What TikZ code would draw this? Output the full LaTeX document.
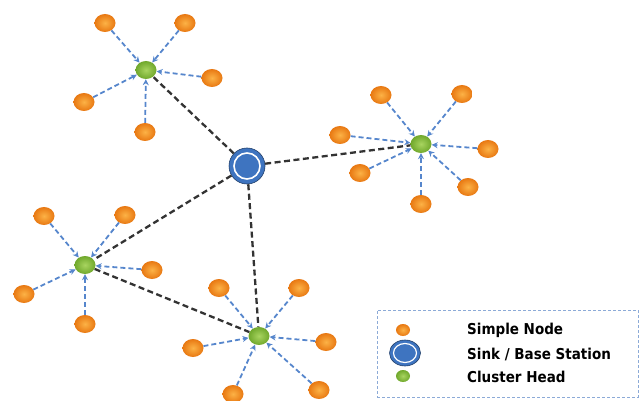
\documentclass[tikz,border=0pt]{standalone}
\usepackage{fontspec}
\setmainfont{DejaVu Sans Condensed}
\usetikzlibrary{arrows.meta,shapes.geometric}
\definecolor{nodeorange}{RGB}{232,120,18}
\definecolor{nodelight}{RGB}{252,178,70}
\definecolor{headgreen}{RGB}{112,168,44}
\definecolor{headlight}{RGB}{168,212,96}
\definecolor{sinkblue}{RGB}{62,116,192}
\definecolor{linkblue}{RGB}{86,134,204}
\definecolor{boxblue}{RGB}{140,170,215}

\begin{document}
\begin{tikzpicture}[x=1pt,y=-1pt,
    simple/.style={ellipse,minimum width=21pt,minimum height=18pt,inner sep=0pt,inner color=nodelight,outer color=nodeorange},
    head/.style={ellipse,minimum width=21pt,minimum height=18pt,inner sep=0pt,inner color=headlight,outer color=headgreen},
    sinkring/.style={ellipse,minimum width=36pt,minimum height=36pt,inner sep=0pt,fill=sinkblue,draw=sinkblue!55!black,line width=0.6pt},
    sinkcore/.style={ellipse,minimum width=26pt,minimum height=26pt,inner sep=0pt,fill=sinkblue,draw=white,line width=1.6pt},
    link/.style={draw=linkblue,line width=1.8pt,dash pattern=on 5pt off 3pt,-{Stealth[length=6pt,width=6pt]}},
    uplink/.style={draw=black!80,line width=2.3pt,dash pattern=on 6pt off 3.5pt},
    legendtext/.style={anchor=west,inner sep=0pt,font=\bfseries\fontsize{15}{18}\selectfont}]
    \useasboundingbox (0,0) rectangle (643,401);

    \node[sinkring] (sink) at (247,166) {};
    \node[sinkcore] (sinkc) at (sink) {};

    \node[head] (c1) at (146,70) {};
    \node[head] (c2) at (421,144) {};
    \node[head] (c3) at (85,265) {};
    \node[head] (c4) at (259,336) {};

    \foreach \c in {c1,c2,c3,c4}
        \draw[uplink] (sink) -- (\c);
    \draw[uplink] (c3) -- (c4);

    \foreach \p [count=\i] in {(105,23),(185,23),(212,78),(84,102),(145,132)}{
        \node[simple] (a\i) at \p {};
        \draw[link] (a\i) -- (c1);
    }
    \foreach \p [count=\i] in {(381,95),(462,94),(340,135),(488,149),(360,173),(468,187),(421,204)}{
        \node[simple] (b\i) at \p {};
        \draw[link] (b\i) -- (c2);
    }
    \foreach \p [count=\i] in {(44,216),(125,215),(152,270),(24,294),(85,324)}{
        \node[simple] (d\i) at \p {};
        \draw[link] (d\i) -- (c3);
    }
    \foreach \p [count=\i] in {(219,288),(299,288),(326,342),(193,348),(233,394),(319,390)}{
        \node[simple] (e\i) at \p {};
        \draw[link] (e\i) -- (c4);
    }

    \node[draw=boxblue,line width=1pt,dash pattern=on 3pt off 2pt,minimum width=261pt,minimum height=87pt] (legend) at (507.5,353.5) {};
    \node[simple,minimum width=14pt,minimum height=12pt] (ksimple) at (403,330) {};
    \node[sinkring,minimum width=31pt,minimum height=26pt] (ksink) at (405,353) {};
    \node[sinkcore,minimum width=23pt,minimum height=19pt,line width=1.2pt] (ksinkc) at (ksink) {};
    \node[head,minimum width=14pt,minimum height=12pt] (khead) at (403,376) {};
    \node[legendtext] (tsimple) at (467,330) {Simple Node};
    \node[legendtext] (tsink) at (467,354) {Sink / Base Station};
    \node[legendtext] (thead) at (467,377) {Cluster Head};
\end{tikzpicture}
\end{document}
